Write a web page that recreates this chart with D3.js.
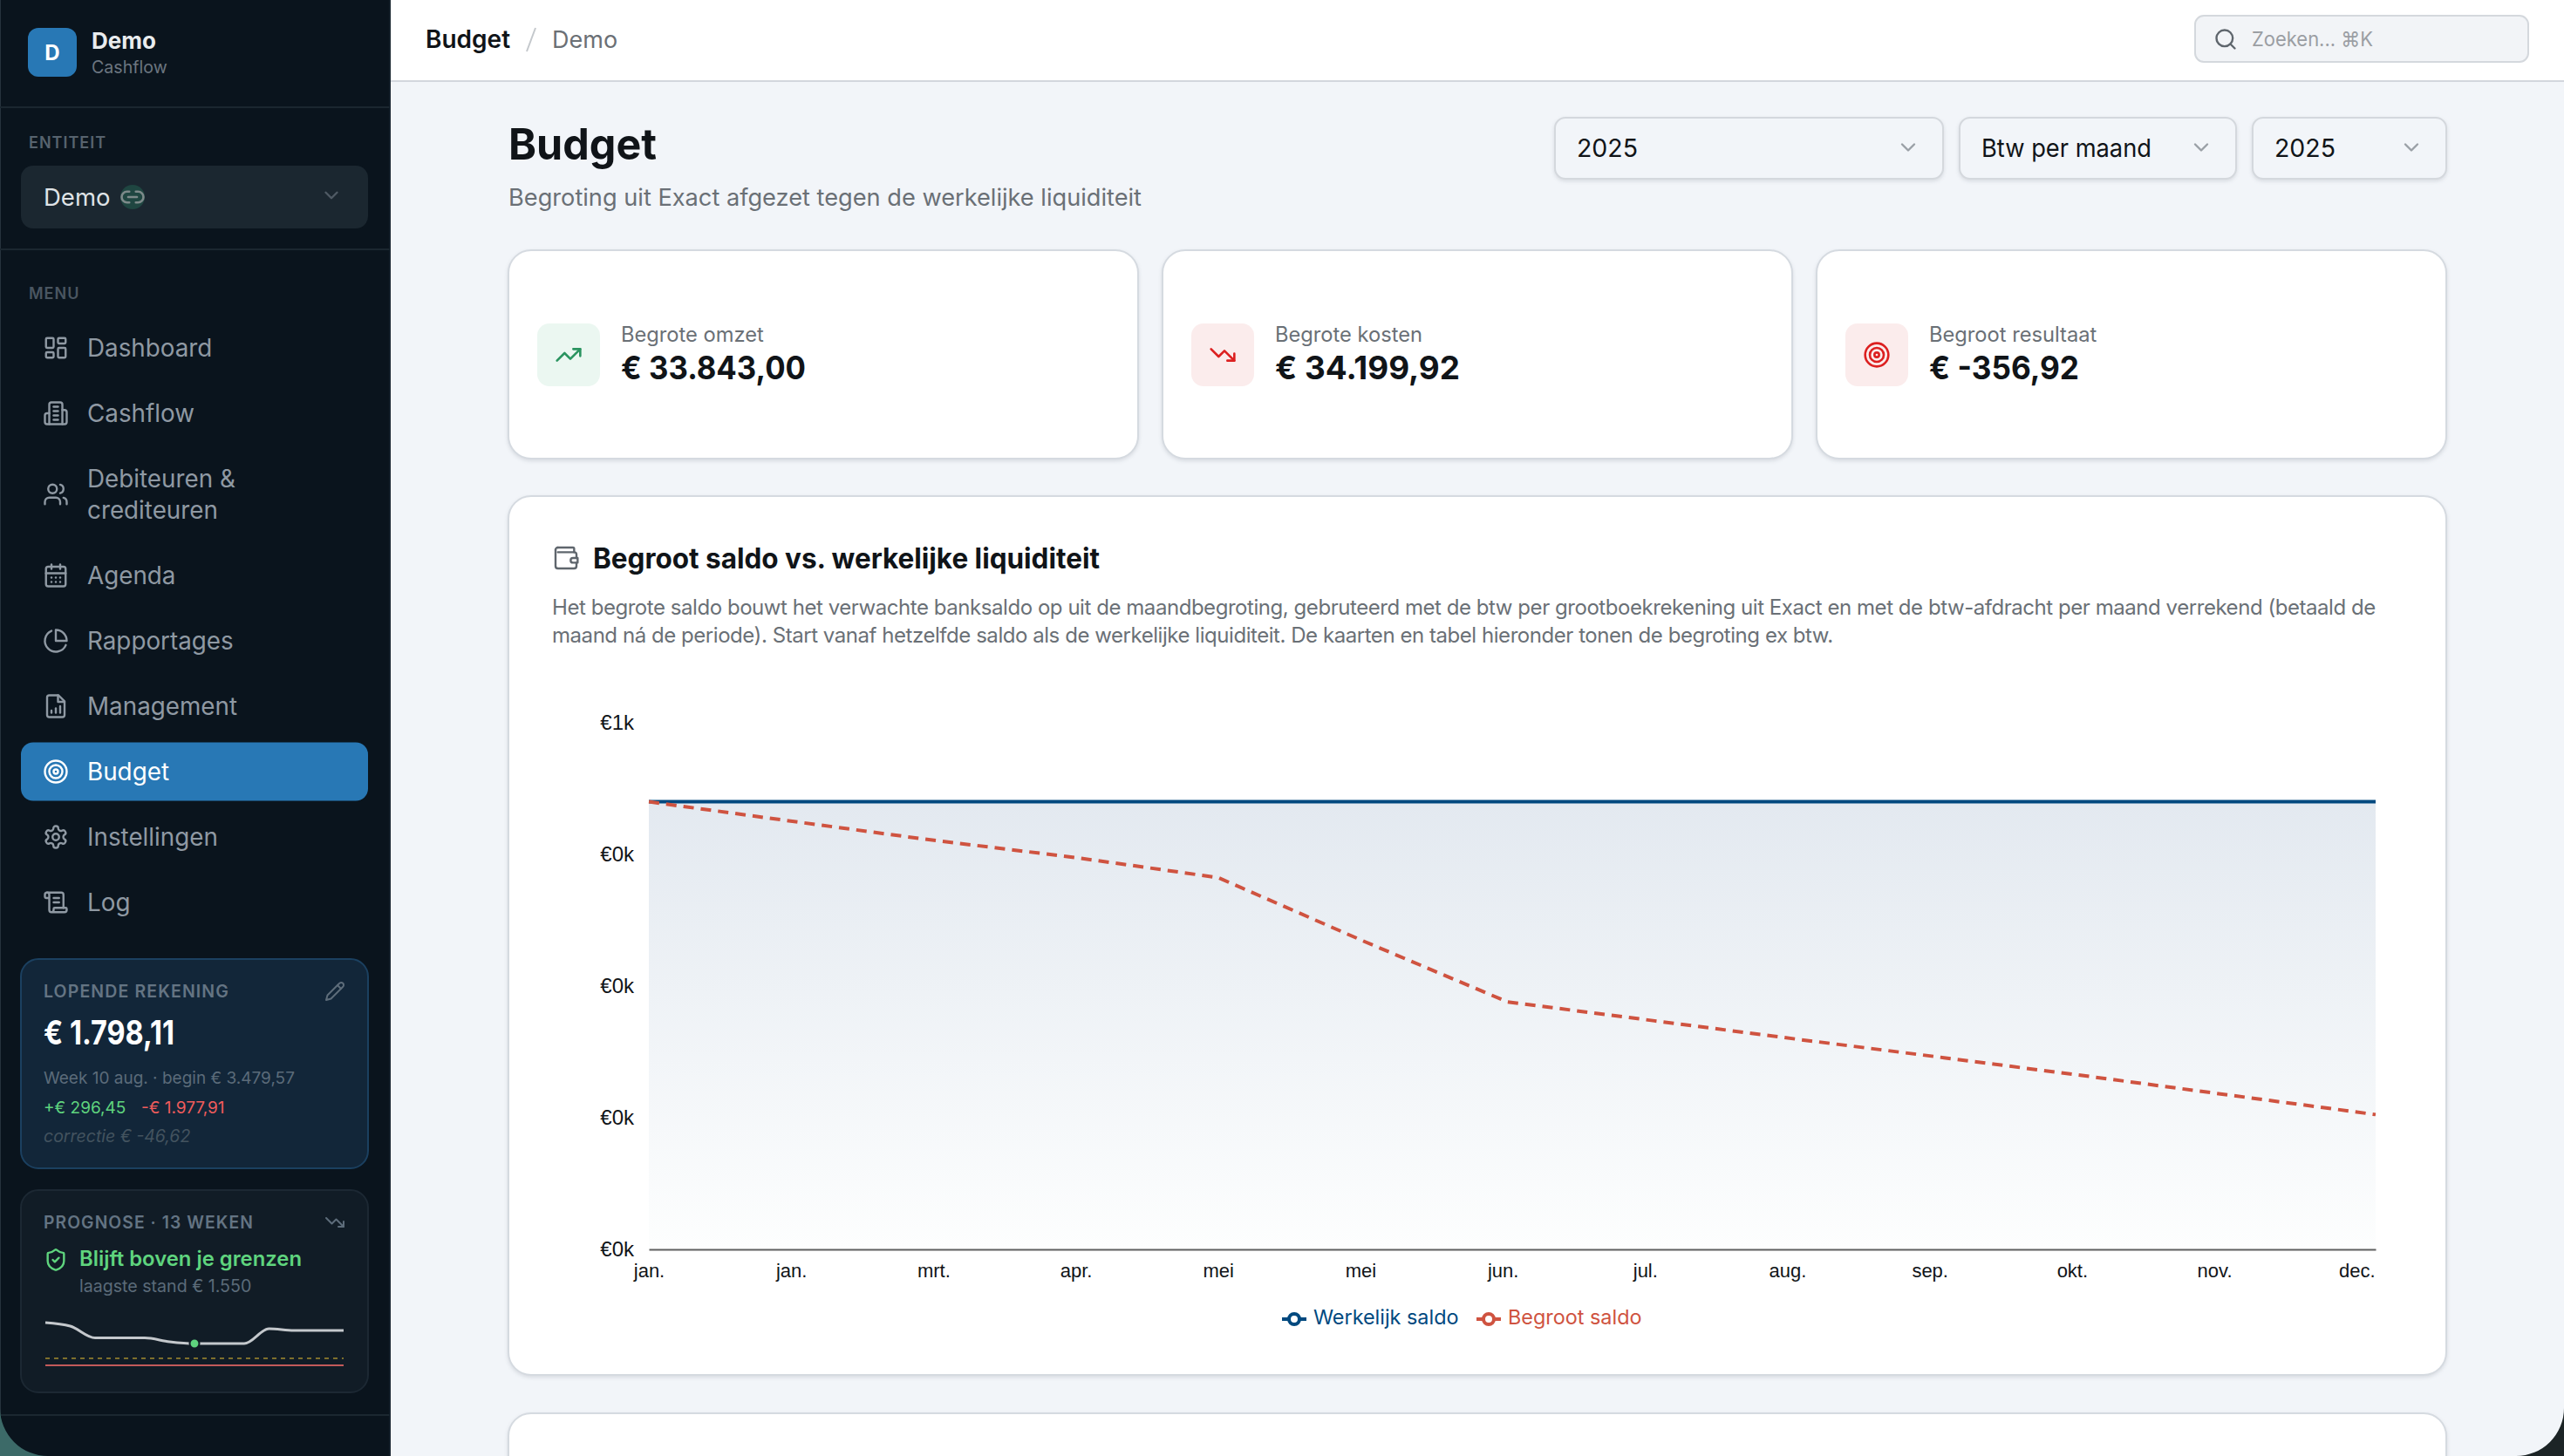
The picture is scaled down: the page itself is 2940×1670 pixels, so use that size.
<!DOCTYPE html>
<html lang="nl">
<head>
<meta charset="utf-8">
<title>Budget</title>
<script src="https://cdn.jsdelivr.net/npm/d3@7"></script>
<style>
  html, body { margin: 0; padding: 0; background: #f2f5f9; overflow: hidden; }
  svg { display: block; font-family: Inter, "Noto Sans", sans-serif; }
  .card { filter: drop-shadow(0 2px 2px rgba(30, 40, 60, 0.12)); }
</style>
</head>
<body>
<svg id="app" width="2940" height="1670" viewBox="0 0 2940 1670"></svg>
<script>
// chart data
const saldoDates = ['2025-01-01', '2025-02-01', '2025-03-01', '2025-04-01', '2025-05-01', '2025-06-01',
    '2025-07-01', '2025-08-01', '2025-09-01', '2025-10-01', '2025-11-01', '2025-12-01', '2025-12-31'];
const werkelijkSaldo = [425, 425, 425, 425, 425, 425, 425, 425, 425, 425, 425, 425, 425];
const begrootSaldo = [425, 406, 389, 372, 353, 292, 235, 217, 199, 182, 164, 146, 128];
const yTicks = [0, 125, 250, 375, 500];
const xTickDates = ['2025-01-01', '2025-01-31', '2025-03-02', '2025-04-01', '2025-05-01', '2025-05-31',
    '2025-06-30', '2025-07-30', '2025-08-29', '2025-09-28', '2025-10-28', '2025-11-27', '2025-12-27'];
const xTickLabels = ['jan.', 'jan.', 'mrt.', 'apr.', 'mei', 'mei', 'jun.', 'jul.', 'aug.', 'sep.', 'okt.', 'nov.', 'dec.'];
const legendNames = ['Werkelijk saldo', 'Begroot saldo'];

// sidebar forecast, one value per week
const prognose = [1798, 1757, 1617, 1617, 1617, 1571, 1550, 1550, 1550, 1725, 1705, 1705, 1705];
const prognoseGrens = 1375;
const prognoseMinimum = 1292;

// page texts
const navLabels = [['Dashboard'], ['Cashflow'], ['Debiteuren &', 'crediteuren'], ['Agenda'], ['Rapportages'],
    ['Management'], ['Budget'], ['Instellingen'], ['Log']];
const navActive = 'Budget';
const kpiLabels = ['Begrote omzet', 'Begrote kosten', 'Begroot resultaat'];
const kpiValues = ['€ 33.843,00', '€ 34.199,92', '€ -356,92'];
const filterLabels = ['2025', 'Btw per maand', '2025'];
const omschrijving = [
    'Het begrote saldo bouwt het verwachte banksaldo op uit de maandbegroting, gebruteerd met de btw per grootboekrekening uit Exact en met de btw-afdracht per maand verrekend (betaald de',
    'maand ná de periode). Start vanaf hetzelfde saldo als de werkelijke liquiditeit. De kaarten en tabel hieronder tonen de begroting ex btw.'
];

// lucide style icons, 24x24 grid
const icons = {
    dashboard: ['M4 3h5a1 1 0 0 1 1 1v7a1 1 0 0 1-1 1H4a1 1 0 0 1-1-1V4a1 1 0 0 1 1-1z', 'M15 3h5a1 1 0 0 1 1 1v3a1 1 0 0 1-1 1h-5a1 1 0 0 1-1-1V4a1 1 0 0 1 1-1z', 'M15 12h5a1 1 0 0 1 1 1v7a1 1 0 0 1-1 1h-5a1 1 0 0 1-1-1v-7a1 1 0 0 1 1-1z', 'M4 16h5a1 1 0 0 1 1 1v3a1 1 0 0 1-1 1H4a1 1 0 0 1-1-1v-3a1 1 0 0 1 1-1z'],
    building: ['M6 22V4a2 2 0 0 1 2-2h8a2 2 0 0 1 2 2v18Z', 'M6 12H4a2 2 0 0 0-2 2v6a2 2 0 0 0 2 2h2', 'M18 9h2a2 2 0 0 1 2 2v9a2 2 0 0 1-2 2h-2', 'M10 6h4', 'M10 10h4', 'M10 14h4', 'M10 18h4'],
    users: ['M16 21v-2a4 4 0 0 0-4-4H6a4 4 0 0 0-4 4v2', 'M13 7a4 4 0 1 1-8 0 4 4 0 0 1 8 0z', 'M22 21v-2a4 4 0 0 0-3-3.87', 'M16 3.13a4 4 0 0 1 0 7.75'],
    calendar: ['M5 4h14a2 2 0 0 1 2 2v14a2 2 0 0 1-2 2H5a2 2 0 0 1-2-2V6a2 2 0 0 1 2-2z', 'M16 2v4', 'M8 2v4', 'M3 10h18', 'M8 14h.01', 'M12 14h.01', 'M16 14h.01', 'M8 18h.01', 'M12 18h.01', 'M16 18h.01'],
    pie: ['M21.21 15.89A10 10 0 1 1 8 2.83', 'M22 12A10 10 0 0 0 12 2v10z'],
    file: ['M14.5 2H6a2 2 0 0 0-2 2v16a2 2 0 0 0 2 2h12a2 2 0 0 0 2-2V7.5L14.5 2z', 'M14 2v6h6', 'M12 18v-4', 'M8 18v-2', 'M16 18v-6'],
    target: ['M22 12a10 10 0 1 1-20 0 10 10 0 0 1 20 0z', 'M18 12a6 6 0 1 1-12 0 6 6 0 0 1 12 0z', 'M14 12a2 2 0 1 1-4 0 2 2 0 0 1 4 0z'],
    settings: ['M12.22 2h-.44a2 2 0 0 0-2 2v.18a2 2 0 0 1-1 1.73l-.43.25a2 2 0 0 1-2 0l-.15-.08a2 2 0 0 0-2.73.73l-.22.38a2 2 0 0 0 .73 2.73l.15.1a2 2 0 0 1 1 1.72v.51a2 2 0 0 1-1 1.74l-.15.09a2 2 0 0 0-.73 2.73l.22.38a2 2 0 0 0 2.73.73l.15-.08a2 2 0 0 1 2 0l.43.25a2 2 0 0 1 1 1.73V20a2 2 0 0 0 2 2h.44a2 2 0 0 0 2-2v-.18a2 2 0 0 1 1-1.73l.43-.25a2 2 0 0 1 2 0l.15.08a2 2 0 0 0 2.73-.73l.22-.39a2 2 0 0 0-.73-2.73l-.15-.08a2 2 0 0 1-1-1.74v-.5a2 2 0 0 1 1-1.74l.15-.09a2 2 0 0 0 .73-2.73l-.22-.38a2 2 0 0 0-2.73-.73l-.15.08a2 2 0 0 1-2 0l-.43-.25a2 2 0 0 1-1-1.73V4a2 2 0 0 0-2-2z', 'M15 12a3 3 0 1 1-6 0 3 3 0 0 1 6 0z'],
    scroll: ['M15 12h-5', 'M15 8h-5', 'M19 17V5a2 2 0 0 0-2-2H4', 'M8 21h12a2 2 0 0 0 2-2v-1a1 1 0 0 0-1-1H11a1 1 0 0 0-1 1v1a2 2 0 1 1-4 0V5a2 2 0 1 0-4 0v2a1 1 0 0 0 1 1h3'],
    link: ['M9 17H7A5 5 0 0 1 7 7h2', 'M15 7h2a5 5 0 1 1 0 10h-2', 'M8 12h8'],
    chevron: ['m6 9 6 6 6-6'],
    pencil: ['M17 3a2.85 2.83 0 1 1 4 4L7.5 20.5 2 22l1.5-5.5Z', 'm15 5 4 4'],
    up: ['M22 7 13.5 15.5 8.5 10.5 2 17', 'M16 7h6v6'],
    down: ['M22 17 13.5 8.5 8.5 13.5 2 7', 'M16 17h6v-6'],
    shield: ['M20 13c0 5-3.5 7.5-7.66 8.95a1 1 0 0 1-.67-.01C7.5 20.5 4 18 4 13V6a1 1 0 0 1 1-1c2 0 4.5-1.2 6.24-2.72a1.17 1.17 0 0 1 1.52 0C14.51 3.81 17 5 19 5a1 1 0 0 1 1 1z', 'm9 12 2 2 4-4'],
    search: ['M19 11a8 8 0 1 1-16 0 8 8 0 0 1 16 0z', 'm21 21-4.3-4.3'],
    wallet: ['M5 3h13a1 1 0 0 1 1 1v3', 'M5 7h14a2 2 0 0 1 2 2v3', 'M3 5a2 2 0 0 1 2-2', 'M3 5v14a2 2 0 0 0 2 2h14a2 2 0 0 0 2-2v-3', 'M18 12a2 2 0 0 0 0 4h4v-4Z']
};
const navIcons = ['dashboard', 'building', 'users', 'calendar', 'pie', 'file', 'target', 'settings', 'scroll'];

const svg = d3.select('#app');

function label(parent, x, y, str, size, weight, fill, opts) {
    const o = opts || {};
    const t = parent.append('text')
        .attr('x', x)
        .attr('y', y)
        .attr('font-size', size)
        .attr('font-weight', weight)
        .attr('fill', fill)
        .text(str);
    if (o.spacing) t.attr('letter-spacing', o.spacing);
    if (o.anchor) t.attr('text-anchor', o.anchor);
    if (o.italic) t.attr('font-style', 'italic');
    if (o.width) t.attr('textLength', o.width).attr('lengthAdjust', 'spacingAndGlyphs');
    return t;
}

function icon(parent, name, cx, cy, size, color, strokeWidth) {
    const k = size / 24;
    const g = parent.append('g')
        .attr('transform', `translate(${cx - size / 2},${cy - size / 2}) scale(${k})`)
        .attr('fill', 'none')
        .attr('stroke', color)
        .attr('stroke-width', (strokeWidth || 2.4) / k)
        .attr('stroke-linecap', 'round')
        .attr('stroke-linejoin', 'round');
    g.selectAll('path').data(icons[name]).enter().append('path').attr('d', (d) => d);
    return g;
}

function box(parent, x0, y0, x1, y1, r, fill, stroke, cls) {
    return parent.append('rect')
        .attr('class', cls || null)
        .attr('x', x0)
        .attr('y', y0)
        .attr('width', x1 - x0)
        .attr('height', y1 - y0)
        .attr('rx', r)
        .attr('fill', fill)
        .attr('stroke', stroke || 'none')
        .attr('stroke-width', stroke ? 2 : 0);
}

renderMain();
renderSidebar();
renderCorners();

function renderMain() {
    const main = svg.append('g');
    main.append('rect').attr('x', 447).attr('y', 0).attr('width', 2493).attr('height', 1670).attr('fill', '#f2f5f9');

    // top bar
    main.append('rect').attr('x', 447).attr('y', 0).attr('width', 2493).attr('height', 93).attr('fill', '#ffffff');
    main.append('rect').attr('x', 447).attr('y', 92).attr('width', 2493).attr('height', 2).attr('fill', '#d3d7dd');
    label(main, 488, 55, 'Budget', 28, 600, '#101418');
    main.append('line').attr('x1', 614).attr('y1', 32).attr('x2', 604).attr('y2', 59).attr('stroke', '#c4c8cc').attr('stroke-width', 2);
    label(main, 633, 55, 'Demo', 27, 400, '#6b7075');

    box(main, 2517, 18, 2899, 71, 10, '#f2f4f7', '#d4d8dd');
    icon(main, 'search', 2552, 45, 28, '#5f666d', 2.4);
    label(main, 2582, 53, 'Zoeken... ⌘K', 23, 400, '#9b9ea3', { width: 139 });

    // heading
    label(main, 583, 183, 'Budget', 50, 700, '#101418', { width: 170 });
    label(main, 583, 236, 'Begroting uit Exact afgezet tegen de werkelijke liquiditeit', 27.2, 400, '#6a7076', { width: 726 });

    const filterBoxes = [[1783, 2228], [2247, 2564], [2583, 2805]];
    const filterWidths = [70, 195, 70];
    filterLabels.forEach((txt, i) => {
        const b = filterBoxes[i];
        box(main, b[0], 135, b[1], 205, 12, '#f2f5f9', '#d4d8dd', 'card');
        label(main, b[0] + 25, 180, txt, 29, 400, '#101418', { width: filterWidths[i] });
        icon(main, 'chevron', b[1] - 40, 169, 28, '#9aa0a6', 2.4);
    });

    // kpi cards
    const kpiBoxes = [[583, 1305], [1333, 2055], [2083, 2805]];
    const kpiIcons = ['up', 'down', 'target'];
    const kpiTint = ['#ebf7f1', '#fbecec', '#fbecec'];
    const kpiInk = ['#2a9460', '#dc2020', '#dc2020'];
    const kpiWidths = [212, 212, 172];
    kpiLabels.forEach((txt, i) => {
        const b = kpiBoxes[i];
        box(main, b[0], 287, b[1], 526, 26, '#ffffff', '#d5dae0', 'card');
        box(main, b[0] + 33, 371, b[0] + 105, 443, 14, kpiTint[i]);
        icon(main, kpiIcons[i], b[0] + 69, 407, 32, kpiInk[i], 2.6);
        label(main, b[0] + 129, 392, txt, 23.7, 400, '#6a7076');
        label(main, b[0] + 129, 435, kpiValues[i], 37, 700, '#101418', { width: kpiWidths[i] });
    });

    // chart card and the one below it
    box(main, 583, 569, 2805, 1577, 26, '#ffffff', '#d5dae0', 'card');
    box(main, 583, 1621, 2805, 1900, 26, '#ffffff', '#d5dae0', 'card');
    icon(main, 'wallet', 649, 640, 32, '#5f666d', 2.4);
    label(main, 680, 652, 'Begroot saldo vs. werkelijke liquiditeit', 32, 700, '#101418', { width: 581 });
    omschrijving.forEach((line, i) => {
        label(main, 633, 705 + i * 32, line, 24, 400, '#6a7076', { spacing: -0.45 });
    });

    renderChart(main);
}

function renderChart(parent) {
    const plot = { left: 744, right: 2724, top: 829, bottom: 1433 };
    const parseDate = d3.timeParse('%Y-%m-%d');
    const dates = saldoDates.map(parseDate);

    const x = d3.scaleTime()
        .domain(d3.extent(dates))
        .range([plot.left, plot.right]);
    const y = d3.scaleLinear()
        .domain(d3.extent(yTicks))
        .range([plot.bottom, plot.top]);

    const defs = svg.append('defs');
    const grad = defs.append('linearGradient')
        .attr('id', 'saldoFill')
        .attr('x1', 0).attr('y1', 0).attr('x2', 0).attr('y2', 1);
    grad.append('stop').attr('offset', '0%').attr('stop-color', '#e3e9f0');
    grad.append('stop').attr('offset', '100%').attr('stop-color', '#fdfefe');

    const chart = parent.append('g');

    const area = d3.area()
        .x((d, i) => x(dates[i]))
        .y0(y(0))
        .y1((d) => y(d));
    chart.append('path').datum(werkelijkSaldo).attr('d', area).attr('fill', 'url(#saldoFill)');

    const line = d3.line()
        .x((d, i) => x(dates[i]))
        .y((d) => y(d));
    chart.append('path').datum(werkelijkSaldo)
        .attr('d', line)
        .attr('fill', 'none')
        .attr('stroke', '#00497f')
        .attr('stroke-width', 4);
    chart.append('path').datum(begrootSaldo)
        .attr('d', line)
        .attr('fill', 'none')
        .attr('stroke', '#cf5340')
        .attr('stroke-width', 4)
        .attr('stroke-linejoin', 'round')
        .attr('stroke-dasharray', '12 8');

    const yAxis = d3.axisLeft(y)
        .tickValues(yTicks)
        .tickSize(0)
        .tickPadding(17)
        .tickFormat((v) => `€${(v / 1000).toFixed(0)}k`);
    const gy = chart.append('g').attr('transform', `translate(${plot.left},0)`).call(yAxis);
    gy.select('.domain').remove();
    gy.selectAll('text').attr('font-size', 24).attr('font-family', 'inherit').attr('fill', '#111418');

    const xAxis = d3.axisBottom(x)
        .tickValues(xTickDates.map(parseDate))
        .tickSize(0)
        .tickPadding(16)
        .tickFormat((d, i) => xTickLabels[i]);
    const gx = chart.append('g').attr('transform', `translate(0,${plot.bottom})`).call(xAxis);
    gx.select('.domain').attr('stroke', '#5f5f5f').attr('stroke-width', 2);
    gx.selectAll('text').attr('font-size', 22).attr('font-family', 'inherit').attr('fill', '#111418');

    // legend
    const legendColors = ['#00497f', '#cf5340'];
    const legendX = [1470, 1693];
    const legend = chart.selectAll('.legend-item').data(legendNames).enter().append('g')
        .attr('class', 'legend-item')
        .attr('transform', (d, i) => `translate(${legendX[i]},1513)`);
    legend.append('line')
        .attr('x2', 28)
        .attr('stroke', (d, i) => legendColors[i])
        .attr('stroke-width', 4);
    legend.append('circle')
        .attr('cx', 14)
        .attr('r', 6)
        .attr('fill', '#ffffff')
        .attr('stroke', (d, i) => legendColors[i])
        .attr('stroke-width', 4);
    legend.append('text')
        .attr('x', 36)
        .attr('y', 6)
        .attr('font-size', 23.4)
        .attr('fill', (d, i) => legendColors[i])
        .text((d) => d);
}

function renderSidebar() {
    const side = svg.append('g');
    side.append('rect').attr('width', 448).attr('height', 1670).attr('fill', '#0a141d');
    side.append('rect').attr('width', 1).attr('height', 1670).attr('fill', '#26323c');
    side.append('rect').attr('x', 446).attr('width', 2).attr('height', 1670).attr('fill', '#16222c');
    [122, 285, 1622].forEach((yy) => {
        side.append('rect').attr('y', yy).attr('width', 447).attr('height', 2).attr('fill', '#1b2730');
    });

    // brand
    box(side, 32, 32, 88, 88, 12, '#2878b5');
    label(side, 60, 69, 'D', 24, 700, '#ffffff', { anchor: 'middle' });
    label(side, 105, 56, 'Demo', 26, 700, '#e9ecee');
    label(side, 105, 84, 'Cashflow', 19.6, 400, '#6c7680');

    // entity
    label(side, 33, 170, 'ENTITEIT', 18, 600, '#57636e', { spacing: 1 });
    box(side, 24, 190, 422, 262, 14, '#1b2730');
    label(side, 50, 236, 'Demo', 27.5, 400, '#dfe3e6');
    side.append('circle').attr('cx', 152).attr('cy', 226).attr('r', 14).attr('fill', '#1f4641');
    icon(side, 'link', 152, 226, 30, '#7d8a8a', 2.6);
    icon(side, 'chevron', 380, 224, 26, '#4f5a64', 2.4);

    label(side, 33, 343, 'MENU', 18, 600, '#4a5661', { spacing: 1 });

    // nav rows, the two line row takes extra room either side
    let center = 399;
    navLabels.forEach((lines, i) => {
        const active = lines[0] === navActive;
        const ink = active ? '#ffffff' : '#8f99a3';
        const extra = lines.length > 1 ? 18 : 0;
        center += extra;
        if (active) box(side, 24, center - 33.5, 422, center + 33.5, 14, '#2878b5');
        icon(side, navIcons[i], 64, center, 30, ink, 2.4);
        lines.forEach((txt, j) => {
            const off = (j - (lines.length - 1) / 2) * 36;
            label(side, 100, center + off + 10, txt, 27.8, 400, ink);
        });
        center += 75 + extra;
    });

    // current account card
    box(side, 24, 1100, 422, 1340, 20, '#122639', '#1b4060');
    label(side, 50, 1144, 'LOPENDE REKENING', 19.5, 600, '#647483', { spacing: 1.1, width: 213 });
    icon(side, 'pencil', 384, 1137, 24, '#5d6c7a', 2);
    label(side, 50, 1198, '€ 1.798,11', 38, 700, '#ffffff', { width: 150 });
    label(side, 50, 1243, 'Week 10 aug. · begin € 3.479,57', 19, 400, '#5b6b79');
    label(side, 50, 1277, '+€ 296,45', 19, 400, '#5fd47e');
    label(side, 162, 1277, '-€ 1.977,91', 19, 400, '#ef5c5c');
    label(side, 50, 1310, 'correctie € -46,62', 19.5, 400, '#43535f', { italic: true });

    // forecast card
    box(side, 24, 1365, 422, 1597, 20, '#111c26', '#1c2833');
    label(side, 50, 1409, 'PROGNOSE · 13 WEKEN', 19.5, 600, '#647483', { spacing: 1.1, width: 241 });
    icon(side, 'down', 384, 1402, 24, '#5d6c7a', 2);
    icon(side, 'shield', 64, 1445, 28, '#5fd47e', 2.4);
    label(side, 91, 1452, 'Blijft boven je grenzen', 24, 600, '#5fd47e', { width: 255 });
    label(side, 91, 1482, 'laagste stand € 1.550', 19.6, 400, '#5b6b79');

    const sx = d3.scaleLinear().domain([0, prognose.length - 1]).range([52, 394]);
    const sy = d3.scaleLinear().domain([prognoseMinimum, 1798]).range([1566, 1517]);
    side.append('line')
        .attr('x1', sx.range()[0]).attr('x2', sx.range()[1])
        .attr('y1', sy(prognoseGrens)).attr('y2', sy(prognoseGrens))
        .attr('stroke', '#7d6f2c').attr('stroke-width', 2).attr('stroke-dasharray', '5 5');
    side.append('line')
        .attr('x1', sx.range()[0]).attr('x2', sx.range()[1])
        .attr('y1', sy(prognoseMinimum)).attr('y2', sy(prognoseMinimum))
        .attr('stroke', '#c25a5a').attr('stroke-width', 2);
    side.append('path').datum(prognose)
        .attr('d', d3.line().x((d, i) => sx(i)).y((d) => sy(d)).curve(d3.curveMonotoneX))
        .attr('fill', 'none')
        .attr('stroke', '#c4c8cc')
        .attr('stroke-width', 3);
    const lowIndex = prognose.indexOf(d3.min(prognose));
    side.append('circle')
        .attr('cx', sx(lowIndex))
        .attr('cy', sy(prognose[lowIndex]))
        .attr('r', 5.5)
        .attr('fill', '#5fd47e')
        .attr('stroke', '#111c26')
        .attr('stroke-width', 2);
}

// the screenshot shows the rounded window corners over the wallpaper
function renderCorners() {
    const r = 55;
    const c = svg.append('g');
    c.append('path').attr('d', `M0,${1670 - r} A${r},${r} 0 0 0 ${r},1670 L0,1670 Z`).attr('fill', '#3c6a68');
    c.append('path').attr('d', `M2940,${1670 - r} A${r},${r} 0 0 1 ${2940 - r},1670 L2940,1670 Z`).attr('fill', '#1c2426');
}
</script>
</body>
</html>
